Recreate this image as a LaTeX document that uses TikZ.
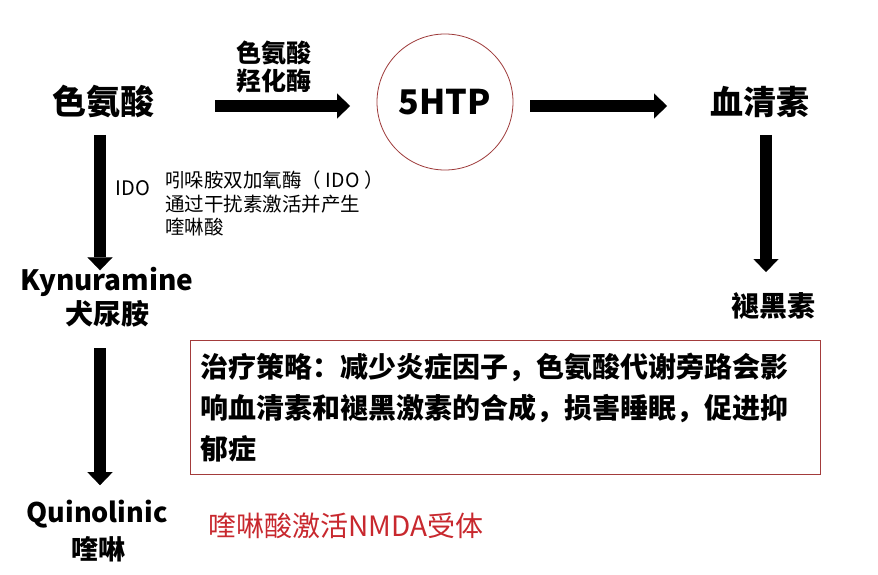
\documentclass[tikz,border=0pt]{standalone}
\usepackage{fontspec}
\setmainfont{Noto Sans CJK SC}
\usetikzlibrary{arrows.meta}
\definecolor{circred}{HTML}{9E3A3A}
\definecolor{boxred}{HTML}{A33B3B}
\definecolor{notered}{HTML}{C8282E}
\tikzset{
  blk/.style={line width=12pt, black, -{Triangle[length=13pt,width=25pt,line width=0.1pt]}},
  big/.style={inner sep=0pt, outer sep=0pt, font=\bfseries\fontsize{34pt}{40pt}\selectfont, text height=29.9pt, text depth=4.1pt},
  mid/.style={inner sep=0pt, outer sep=0pt, font=\bfseries\fontsize{33pt}{40pt}\selectfont, text height=29pt, text depth=4pt},
  cn28/.style={inner sep=0pt, outer sep=0pt, font=\bfseries\fontsize{28pt}{34pt}\selectfont, text height=24.6pt, text depth=3.4pt},
  cn27/.style={inner sep=0pt, outer sep=0pt, font=\bfseries\fontsize{27pt}{32pt}\selectfont, text height=23.8pt, text depth=3.2pt},
  cn25/.style={inner sep=0pt, outer sep=0pt, font=\bfseries\fontsize{25pt}{30pt}\selectfont, text height=22pt, text depth=3pt},
  lat28/.style={inner sep=0pt, outer sep=0pt, font=\bfseries\fontsize{28pt}{34pt}\selectfont, text height=20.4pt, text depth=0pt},
  lat27/.style={inner sep=0pt, outer sep=0pt, font=\bfseries\fontsize{27pt}{32pt}\selectfont, text height=19.7pt, text depth=0pt},
  small/.style={inner sep=0pt, outer sep=0pt, font=\fontsize{19.5pt}{23.5pt}\selectfont},
}
\begin{document}
\begin{tikzpicture}[x=1pt, y=-1pt]
\useasboundingbox[fill=white] (0,0) rectangle (878,575);

% nodes
\node[big] (trp) at (103,102) {色氨酸};
\node[cn25] (enz1) at (274,53) {色氨酸};
\node[cn25] (enz2) at (274,81) {羟化酶};
\node[circle, draw=circred, line width=0.8pt, minimum size=136pt, inner sep=0pt, outer sep=0pt,
      font=\bfseries\fontsize{34pt}{40pt}\selectfont] (htp) at (445,102) {5HTP};
\node[mid] (ser) at (760,102) {血清素};
\node[cn28] (mel) at (773,306) {褪黑素};

\node[small, font=\fontsize{20pt}{24pt}\selectfont] (ido) at (133,188) {IDO};
\node[small, anchor=north west, align=left] (desc) at (165,171)
  {吲哚胺双加氧酶（\hspace{5pt}IDO\hspace{5pt}）\\通过干扰素激活并产生\\喹啉酸};

\node[lat28] (kyn) at (107,280.5) {Kynuramine};
\node[cn28] (kyncn) at (107,314) {犬尿胺};

\node[lat27] (quin) at (97,512.5) {Quinolinic};
\node[cn27] (quincn) at (98,549) {喹啉};

\node[anchor=west, inner sep=0pt, text=notered, font=\fontsize{28pt}{32pt}\selectfont,
      text height=24.6pt, text depth=3.4pt] (note) at (208,526) {喹啉酸激活NMDA受体};

\node[draw=boxred, line width=1pt, rectangle, anchor=north west,
      minimum width=630pt, minimum height=134pt, inner xsep=10pt, inner ysep=0pt,
      text width=610pt, align=left,
      font=\bfseries\fontsize{28pt}{41pt}\selectfont] (box) at (190,340)
  {治疗策略：减少炎症因子，色氨酸代谢旁路会影\\响血清素和褪黑激素的合成，损害睡眠，促进抑\\郁症};

% arrows
\draw[blk, shorten <=61pt, shorten >=27pt] ([yshift=-4pt]trp.east) -- ([yshift=-4pt]htp.west);
\draw[blk, shorten <=17pt, shorten >=43.5pt] ([yshift=-4pt]htp.east) -- ([yshift=-4pt]ser.west);
\draw[blk, shorten <=16pt, shorten >=0pt] ([xshift=-3pt]trp.south) -- ([xshift=-3pt]trp.south |- kyn.north);
\draw[blk, shorten <=20pt, shorten >=17.5pt] ([xshift=-7pt]kyncn.south) -- ([xshift=-7pt]kyncn.south |- quin.north);
\draw[blk, shorten <=16.5pt, shorten >=20pt] ([xshift=6pt]ser.south) -- ([xshift=6pt]ser.south |- mel.north);
\end{tikzpicture}
\end{document}
